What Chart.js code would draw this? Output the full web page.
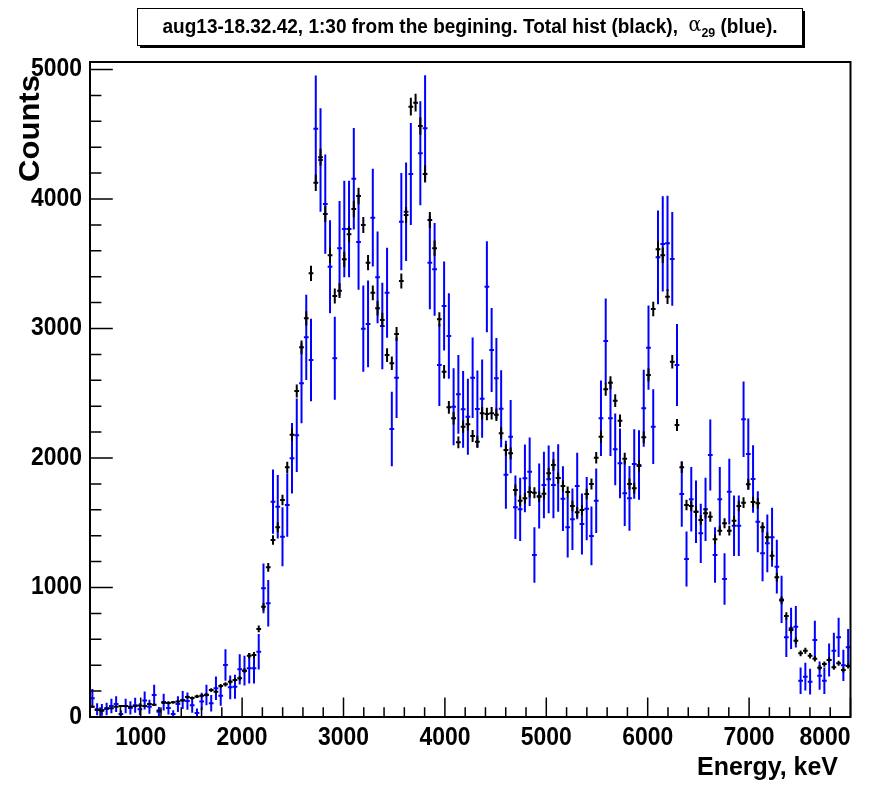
<!DOCTYPE html>
<html>
<head>
<meta charset="utf-8">
<script src="https://cdn.jsdelivr.net/npm/chart.js@4.4.1/dist/chart.umd.min.js"></script>
<style>
  html, body { margin: 0; padding: 0; background: #fff; }
  canvas { display: block; }
</style>
</head>
<body>
<canvas id="spectrum" width="895" height="786"></canvas>
<script>
// Histogram definition: 160 bins from 500 to 8000 keV
const binLow = 500;
const binHigh = 8000;
const nBins = 160;

// Total histogram (black), counts per bin
const totalHist = [
  80, 54, 48, 67, 67, 80, 84, 84, 80, 84, 88, 84, 100, 95, 50, 110, 108, 113, 120, 128, 154, 146, 159, 164, 172,
  208, 195, 240, 252, 272, 286, 299, 358, 473, 479, 680, 852, 1156, 1367, 1465, 1676, 1928, 2180, 2517, 2855,
  3079, 3426, 4126, 4322, 3884, 3565, 3251, 3292, 3534, 3727, 3923, 4023, 3799, 3508, 3276, 3156, 3066,
  2795, 2731, 2957, 3367, 3876, 4713, 4744, 4564, 4193, 3838, 3619, 3071, 2666, 2391, 2307, 2121, 2242,
  2260, 2170, 2126, 2345, 2340, 2345, 2334, 2191, 2062, 2036, 1753, 1670, 1689, 1737, 1732, 1701, 1724,
  1882, 1946, 1846, 1784, 1737, 1629, 1581, 1598, 1722, 1799, 2002, 2165, 2531, 2581, 2443, 2288, 1995,
  1799, 1766, 1938, 2160, 2641, 3151, 3612, 3565, 3246, 2744, 2255, 1928, 1637, 1629, 1585, 1521, 1573,
  1547, 1372, 1439, 1496, 1439, 1516, 1629, 1655, 1797, 1660, 1650, 1465, 1388, 1246, 1079, 900,
  780, 672, 589, 492, 512, 473, 450, 381, 409, 440, 384, 415, 363, 394
];
const totalErr = [
  9, 7, 7, 8, 8, 9, 9, 9, 9, 9, 9, 9, 10, 10, 7, 10, 10, 11, 11, 11, 12, 12, 13, 13, 13,
  14, 14, 15, 16, 16, 17, 17, 19, 22, 22, 26, 29, 34, 37, 38, 41, 44, 47, 50, 53,
  55, 59, 64, 66, 62, 60, 57, 57, 59, 61, 63, 63, 62, 59, 57, 56, 55,
  53, 52, 54, 58, 62, 69, 69, 68, 65, 62, 60, 55, 52, 49, 48, 46, 47,
  48, 47, 46, 48, 48, 48, 48, 47, 45, 45, 42, 41, 41, 42, 42, 41, 42,
  43, 44, 43, 42, 42, 40, 40, 40, 41, 42, 45, 47, 50, 51, 49, 48, 45,
  42, 42, 44, 46, 51, 56, 60, 60, 57, 52, 47, 44, 40, 40, 40, 39, 40,
  39, 37, 38, 39, 38, 39, 40, 41, 42, 41, 41, 38, 37, 35, 33, 30,
  28, 26, 24, 22, 23, 22, 21, 20, 20, 21, 20, 20, 19, 20
];

// alpha_29 histogram (blue); null = empty bin, not drawn
const alpha29 = [
  144, 60, 55, 62, 85, 100, 23, 85, 70, 90, 60, 127, 80, 170, 40, 115, 70, 23, 100, 131, 123, 90, 31, 120, 170,
  106, 222, 165, 402, 229, 234, 368, 358, 376, 376, 504, 994, 878, 1663, 1624, 1392, 1637, 1998, 2175, 2577,
  2932, 2757, 4543, 4301, 3961, 3477, 2770, 3619, 3768, 3768, 4157, 3668, 2999, 3035, 3856, 3395, 3019,
  3276, 2224, 2620, 3825, 3902, 4193, null, 4353, 4546, 3508, 3457, 2718, 3174, 2942, 2396, 2492, 2376,
  2319, 2620, 2378, 2458, 3323, 2834, 2615, 2381, 1871, 2165, 1619, 1604, 1843, 1894, 1251, 1707, 1791,
  1835, 1791, 1846, 1686, 1465, 1527, 1784, 1490, 1609, 1398, 1670, 2307, 2903, 2307, 2067, 1959, 1727,
  1689, 1954, 1946, 2384, 2852, 2242, 3550, 3653, 3658, 3537, 2718, 1722, 1220, 1681, 1585, 1418, 1604,
  2023, 1251, 1681, 1066, 1740, 1477, 1477, 2299, 2031, 1838, 1508, 1264, 1341, 1388, 1161, 908,
  615, 685, 697, 280, 311, 273, 595, 319, 280, 440, 512, 615, 399, 538
];
const alpha29Err = [
  73, 47, 45, 48, 56, 61, 29, 56, 51, 58, 47, 69, 54, 79, 38, 65, 51, 29, 61, 70, 67, 58, 34, 67, 79,
  63, 91, 78, 122, 92, 93, 117, 115, 118, 118, 137, 192, 180, 248, 245, 227, 246, 272, 284, 309,
  329, 319, 410, 399, 383, 359, 320, 366, 373, 373, 392, 368, 333, 335, 378, 354, 334,
  348, 287, 311, 376, 380, 394, 0, 401, 410, 360, 358, 317, 343, 330, 298, 304, 296,
  293, 311, 297, 302, 351, 324, 311, 297, 263, 283, 245, 244, 261, 265, 215, 251, 257,
  261, 257, 261, 250, 233, 238, 257, 235, 244, 227, 249, 292, 328, 292, 277, 269, 253,
  250, 269, 268, 297, 325, 288, 362, 368, 368, 362, 317, 252, 212, 249, 242, 229, 244,
  274, 215, 249, 199, 254, 234, 234, 292, 274, 261, 236, 216, 223, 227, 207, 183,
  151, 159, 161, 102, 107, 100, 148, 109, 102, 128, 138, 151, 121, 141
];

// Axis ticks
const xMajorTicks = [1000, 2000, 3000, 4000, 5000, 6000, 7000, 8000];
const yMajorTicks = [0, 1000, 2000, 3000, 4000, 5000];
const xMinorStep = 200;
const yMinorStep = 200;
const yMax = 5058;

const titleMain = 'aug13-18.32.42, 1:30 from the begining. Total hist (black),  ';
const titleGreek = '\u03b1';
const titleSub = '29';
const titleTail = ' (blue).';

const binWidth = (binHigh - binLow) / nBins;

function toPoints(values, errors) {
  const pts = [];
  values.forEach((v, i) => {
    if (v === null) return;
    pts.push({ x: binLow + binWidth * (i + 0.5), y: v, e: errors[i] });
  });
  return pts;
}

const SANS = '"Liberation Sans", Arial, Helvetica, sans-serif';

// draw text squeezed horizontally so that it spans targetW pixels
function fitText(ctx, str, x, y, font, targetW, align) {
  ctx.save();
  ctx.font = font;
  const sx = targetW / ctx.measureText(str).width;
  ctx.textAlign = align;
  ctx.textBaseline = 'middle';
  ctx.translate(x, y);
  ctx.scale(sx, 1);
  ctx.fillText(str, 0, 0);
  ctx.restore();
}

const errorBars = {
  id: 'errorBars',
  afterDatasetsDraw(chart) {
    const { ctx, chartArea: a, scales: { x, y } } = chart;
    ctx.save();
    ctx.beginPath();
    ctx.rect(a.left, a.top, a.right - a.left, a.bottom - a.top);
    ctx.clip();
    chart.data.datasets.forEach(ds => {
      ctx.strokeStyle = ds.barColor;
      ctx.lineWidth = 2;
      ds.data.forEach(p => {
        const px = x.getPixelForValue(p.x);
        const py = y.getPixelForValue(p.y);
        ctx.beginPath();
        ctx.moveTo(x.getPixelForValue(p.x - binWidth / 2), py);
        ctx.lineTo(x.getPixelForValue(p.x + binWidth / 2), py);
        ctx.moveTo(px, y.getPixelForValue(p.y + p.e));
        ctx.lineTo(px, y.getPixelForValue(p.y - p.e));
        ctx.stroke();
      });
    });
    ctx.restore();
  }
};

const rootFrame = {
  id: 'rootFrame',
  beforeDraw(chart) {
    const ctx = chart.ctx;
    ctx.save();
    ctx.fillStyle = '#fff';
    ctx.fillRect(0, 0, chart.width, chart.height);
    ctx.restore();
  },
  afterDraw(chart) {
    const { ctx, chartArea: a, scales: { x, y } } = chart;
    ctx.save();
    ctx.strokeStyle = '#000';
    ctx.fillStyle = '#000';

    // frame
    ctx.lineWidth = 2;
    ctx.strokeRect(a.left, a.top, a.right - a.left, a.bottom - a.top);

    // x ticks
    ctx.lineWidth = 1.5;
    ctx.beginPath();
    for (let v = 600; v <= binHigh; v += xMinorStep) {
      const px = x.getPixelForValue(v);
      const len = xMajorTicks.includes(v) ? 19.6 : 9.8;
      ctx.moveTo(px, a.bottom);
      ctx.lineTo(px, a.bottom - len);
    }
    // y ticks
    for (let v = 0; v <= yMax; v += yMinorStep) {
      const py = y.getPixelForValue(v);
      const len = yMajorTicks.includes(v) ? 22.8 : 11.4;
      ctx.moveTo(a.left, py);
      ctx.lineTo(a.left + len, py);
    }
    ctx.stroke();

    // tick labels
    const tickFont = 'bold 25px ' + SANS;
    ctx.font = tickFont;
    const digitW = 51 / ctx.measureText('1000').width;
    const drawTick = (str, px, py, align) => {
      ctx.save();
      ctx.font = tickFont;
      ctx.textAlign = align;
      ctx.textBaseline = 'middle';
      ctx.translate(px, py);
      ctx.scale(digitW, 1);
      ctx.fillText(str, 0, 0);
      ctx.restore();
    };
    xMajorTicks.forEach(v => {
      const px = x.getPixelForValue(v);
      if (v === binHigh) drawTick(String(v), px, 738, 'right');
      else drawTick(String(v), px, 738, 'center');
    });
    yMajorTicks.forEach(v => {
      drawTick(String(v), 82, y.getPixelForValue(v), 'right');
    });

    // axis titles
    fitText(ctx, 'Energy, keV', 838, 768, 'bold 26px ' + SANS, 141, 'right');
    ctx.save();
    ctx.translate(31, 182);
    ctx.rotate(-Math.PI / 2);
    fitText(ctx, 'Counts', 0, 0, 'bold 30px ' + SANS, 107, 'left');
    ctx.restore();

    // title box with shadow
    const bx = 137, by = 8, bw = 665, bh = 37;
    ctx.fillStyle = '#000';
    ctx.fillRect(bx + 3, by + 3, bw, bh);
    ctx.fillStyle = '#fff';
    ctx.fillRect(bx, by, bw, bh);
    ctx.lineWidth = 1;
    ctx.strokeRect(bx + 0.5, by + 0.5, bw, bh);

    // title text (segments)
    ctx.fillStyle = '#000';
    const fMain = 'bold 20px ' + SANS;
    const fGreek = '20px "DejaVu Serif", "Liberation Serif", serif';
    const fSub = 'bold 13px ' + SANS;
    ctx.font = fMain; const w1 = ctx.measureText(titleMain).width;
    ctx.font = fGreek; const w2 = ctx.measureText(titleGreek).width;
    ctx.font = fSub; const w3 = ctx.measureText(titleSub).width;
    ctx.font = fMain; const w4 = ctx.measureText(titleTail).width;
    const total = w1 + w2 + w3 + w4;
    const targetW = 615;
    const sx = targetW / total;
    ctx.save();
    ctx.translate(470 - targetW / 2, 27);
    ctx.scale(sx, 1);
    ctx.textBaseline = 'middle';
    ctx.textAlign = 'left';
    let cx = 0;
    ctx.font = fMain; ctx.fillText(titleMain, cx, 0); cx += w1;
    ctx.font = fGreek; ctx.fillText(titleGreek, cx, -1); cx += w2;
    ctx.font = fSub; ctx.fillText(titleSub, cx, 6); cx += w3;
    ctx.font = fMain; ctx.fillText(titleTail, cx, 0);
    ctx.restore();

    ctx.restore();
  }
};

new Chart(document.getElementById('spectrum'), {
  type: 'scatter',
  data: {
    datasets: [
      {
        label: 'alpha29',
        data: toPoints(alpha29, alpha29Err),
        barColor: '#0000ff',
        pointRadius: 0,
        showLine: false
      },
      {
        label: 'Total hist',
        data: toPoints(totalHist, totalErr),
        barColor: '#000000',
        pointRadius: 0,
        showLine: false
      }
    ]
  },
  options: {
    responsive: false,
    animation: false,
    devicePixelRatio: 1,
    layout: { padding: { left: 90, right: 44.5, top: 62, bottom: 69 } },
    plugins: {
      legend: { display: false },
      tooltip: { enabled: false }
    },
    scales: {
      x: { type: 'linear', min: binLow, max: binHigh, display: false },
      y: { type: 'linear', min: 0, max: yMax, display: false }
    }
  },
  plugins: [rootFrame, errorBars]
});
</script>
</body>
</html>
